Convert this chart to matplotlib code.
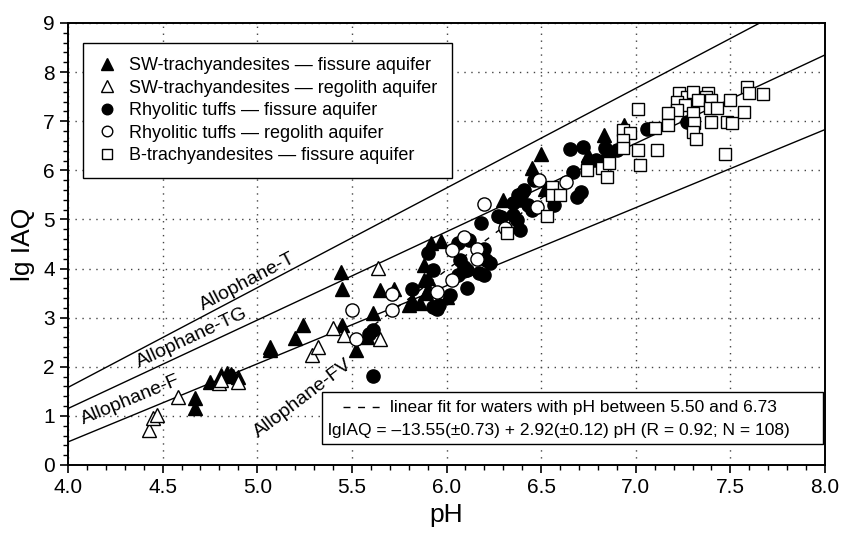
import numpy as np
import matplotlib
matplotlib.use("Agg")
import matplotlib.pyplot as plt
from matplotlib.lines import Line2D
from matplotlib.patches import Rectangle
from matplotlib.ticker import MultipleLocator

plt.rcParams['font.family'] = ['Liberation Sans', 'DejaVu Sans']

# SW-trachyandesites, fissure aquifer (filled triangles)
sw_fis_ph = [4.67, 4.67, 4.75, 4.81, 4.84, 4.86, 4.87, 4.90, 5.07, 5.07, 5.20, 5.24,
             5.44, 5.45, 5.45, 5.52, 5.58, 5.61, 5.65, 5.72, 5.82, 5.86, 5.80, 5.89,
             5.90, 5.88, 5.90, 5.88, 5.92, 5.97, 6.00, 6.30, 6.45, 6.50, 6.52, 6.75,
             6.83, 6.94]
sw_fis_iaq = [1.36, 1.16, 1.69, 1.83, 1.87, 1.85, 1.81, 1.79, 2.40, 2.34, 2.59, 2.85,
              3.93, 3.58, 2.85, 2.34, 2.61, 3.10, 3.56, 3.58, 3.36, 3.30, 3.26, 3.50,
              3.56, 3.77, 3.80, 4.07, 4.52, 4.56, 3.42, 5.40, 6.05, 6.33, 5.62, 6.31,
              6.72, 6.92]

# SW-trachyandesites, regolith aquifer (open triangles)
sw_reg_ph = [4.43, 4.45, 4.47, 4.58, 4.80, 4.81, 4.90, 5.29, 5.32, 5.40, 5.46, 5.64, 5.65]
sw_reg_iaq = [0.71, 0.96, 1.02, 1.39, 1.67, 1.73, 1.69, 2.24, 2.40, 2.79, 2.65, 4.01, 2.57]

# Rhyolitic tuffs, fissure aquifer (filled circles)
rt_fis_ph = [5.61, 5.61, 5.59, 5.82, 5.93, 5.96, 6.02, 5.95, 5.93, 5.90, 6.06, 6.11,
             6.07, 6.09, 6.11, 6.17, 6.20, 6.12, 6.06, 6.18, 6.27, 6.20, 6.21, 6.23,
             6.29, 6.35, 6.37, 6.39, 6.35, 6.39, 6.43, 6.45, 6.57, 6.41, 6.40, 6.38,
             6.46, 6.67, 6.65, 6.72, 6.84, 6.75, 6.79, 6.85, 6.71, 6.69, 6.90, 7.06,
             7.27]
rt_fis_iaq = [1.81, 2.75, 2.67, 3.58, 3.22, 3.26, 3.46, 3.17, 3.97, 4.32, 3.87, 3.60,
              4.18, 4.03, 3.97, 3.91, 3.87, 4.58, 4.52, 4.93, 5.07, 4.40, 4.18, 4.11,
              5.05, 5.09, 4.99, 4.79, 5.34, 5.40, 5.30, 5.19, 5.30, 5.60, 5.54, 5.50,
              5.80, 5.97, 6.44, 6.48, 6.46, 6.15, 6.21, 6.25, 5.56, 5.46, 6.42, 6.84,
              6.99]

# Rhyolitic tuffs, regolith aquifer (open circles)
rt_reg_ph = [5.50, 5.52, 5.71, 5.71, 5.95, 6.03, 6.03, 6.09, 6.16, 6.16, 6.20, 6.31,
             6.48, 6.49, 6.63]
rt_reg_iaq = [3.16, 2.57, 3.48, 3.16, 3.52, 3.77, 4.38, 4.65, 4.40, 4.19, 5.32, 4.83,
              5.25, 5.80, 5.76]

# B-trachyandesites, fissure aquifer (open squares)
bt_fis_ph = [6.32, 6.53, 6.56, 6.56, 6.60, 6.74, 6.82, 6.86, 6.85, 6.93, 6.97, 6.93,
             6.93, 7.01, 7.23, 7.27, 7.30, 7.38, 7.37, 7.22, 7.33, 7.40, 7.26, 7.22,
             7.39, 7.43, 7.30, 7.17, 7.17, 7.31, 7.40, 7.50, 7.48, 7.51, 7.57, 7.59,
             7.60, 7.67, 7.30, 7.32, 7.47, 7.11, 7.10, 7.01, 7.02]
bt_fis_iaq = [4.72, 5.07, 5.66, 5.50, 5.50, 6.01, 6.05, 6.15, 5.87, 6.82, 6.76, 6.62,
              6.46, 7.25, 7.58, 7.50, 7.60, 7.58, 7.50, 7.39, 7.43, 7.43, 7.33, 7.23,
              7.27, 7.27, 7.17, 7.17, 6.92, 6.97, 6.99, 7.43, 6.99, 6.97, 7.19, 7.70,
              7.58, 7.56, 6.78, 6.64, 6.33, 6.42, 6.86, 6.42, 6.11]

# allophane stability lines (end points at pH 4 and 8)
line_ph = [4.0, 8.0]
allo_t = [1.58, 9.70]
allo_tg = [1.15, 8.35]
allo_f = [0.47, 6.83]

# linear fit for waters with 5.50 <= pH <= 6.73
fit_a, fit_b = -13.55, 2.92
fit_range = [5.50, 6.73]

fig = plt.figure(figsize=(8.42, 5.33), dpi=100)
ax = fig.add_axes([68 / 842, 1 - 465 / 533, 757 / 842, 442 / 533])
ax.set_xlim(4.0, 8.0)
ax.set_ylim(0, 9)

ax.grid(True, which='major', linestyle=(0, (1, 4)), color='#444444', linewidth=1.0)
ax.set_axisbelow(True)

for yv in (allo_t, allo_tg, allo_f):
    ax.plot(line_ph, yv, color='black', linewidth=1.0, zorder=2)

fx = np.array(fit_range)
ax.plot(fx, fit_a + fit_b * fx, color='black', linewidth=1.0,
        linestyle=(0, (4, 6)), zorder=2)

mk = dict(linestyle='none', markeredgecolor='black', markeredgewidth=1.0, zorder=3)
ax.plot(sw_fis_ph, sw_fis_iaq, marker='^', markersize=10, color='black',
        label='SW-trachyandesites — fissure aquifer', **mk)
ax.plot(sw_reg_ph, sw_reg_iaq, marker='^', markersize=10, markerfacecolor='white',
        label='SW-trachyandesites — regolith aquifer', **mk)
ax.plot(rt_fis_ph, rt_fis_iaq, marker='o', markersize=9.5, color='black',
        label='Rhyolitic tuffs — fissure aquifer', **mk)
ax.plot(rt_reg_ph, rt_reg_iaq, marker='o', markersize=9.5, markerfacecolor='white',
        label='Rhyolitic tuffs — regolith aquifer', **mk)
ax.plot(bt_fis_ph, bt_fis_iaq, marker='s', markersize=9, markerfacecolor='white',
        label='B-trachyandesites — fissure aquifer', **mk)


def line_angle(x0, y0, x1, y1):
    p0 = ax.transData.transform((x0, y0))
    p1 = ax.transData.transform((x1, y1))
    return np.degrees(np.arctan2(p1[1] - p0[1], p1[0] - p0[0]))


def slope(yv):
    return (yv[1] - yv[0]) / (line_ph[1] - line_ph[0])


lab = dict(fontsize=14, ha='center', va='center', rotation_mode='anchor', zorder=4)
ax.text(4.95, 3.73, 'Allophane-T',
        rotation=line_angle(4, 0, 5, slope(allo_t)), **lab)
ax.text(4.655, 2.59, 'Allophane-TG',
        rotation=line_angle(4, 0, 5, slope(allo_tg)), **lab)
ax.text(4.33, 1.32, 'Allophane-F',
        rotation=line_angle(4, 0, 5, slope(allo_f)), **lab)
ax.text(5.24, 1.36, 'Allophane-FV',
        rotation=line_angle(4, 0, 5, fit_b), **lab)

leg = ax.legend(loc='upper left', bbox_to_anchor=(0.0198, 0.955), borderaxespad=0,
                fontsize=13, frameon=True, fancybox=False, edgecolor='black',
                framealpha=1, handlelength=1.1, handletextpad=0.65,
                labelspacing=0.3, borderpad=0.8, markerscale=0.8)
leg.get_frame().set_linewidth(1.0)

# fit annotation box
ax.add_patch(Rectangle((0.3355, 0.0475), 0.6615, 0.1175, transform=ax.transAxes,
                       facecolor='white', edgecolor='black', linewidth=1.0, zorder=5))
ax.add_line(Line2D([0.363, 0.412], [0.131, 0.131], transform=ax.transAxes,
                   color='black', linewidth=1.0, linestyle=(0, (5, 5.5)), zorder=6))
ax.text(0.4254, 0.131, 'linear fit for waters with pH between 5.50 and 6.73',
        transform=ax.transAxes, fontsize=12.5, ha='left', va='center', zorder=6)
ax.text(0.6486, 0.079,
        'lgIAQ = \u201313.55(\u00b10.73) + 2.92(\u00b10.12) pH (R = 0.92; N = 108)',
        transform=ax.transAxes, fontsize=12.5, ha='center', va='center', zorder=6)

ax.xaxis.set_major_locator(MultipleLocator(0.5))
ax.xaxis.set_minor_locator(MultipleLocator(0.1))
ax.yaxis.set_major_locator(MultipleLocator(1))
ax.yaxis.set_minor_locator(MultipleLocator(0.2))
ax.xaxis.set_major_formatter(matplotlib.ticker.FormatStrFormatter('%.1f'))
ax.tick_params(which='major', direction='out', length=6, width=1.2, labelsize=15,
               top=False, right=False)
ax.tick_params(which='minor', direction='out', length=3.5, width=1.0,
               top=False, right=False)
for s in ax.spines.values():
    s.set_linewidth(1.4)

ax.set_xlabel('pH', fontsize=19, labelpad=4)
ax.set_ylabel('lg IAQ', fontsize=19, labelpad=6)

fig.savefig('out.png', dpi=100)
